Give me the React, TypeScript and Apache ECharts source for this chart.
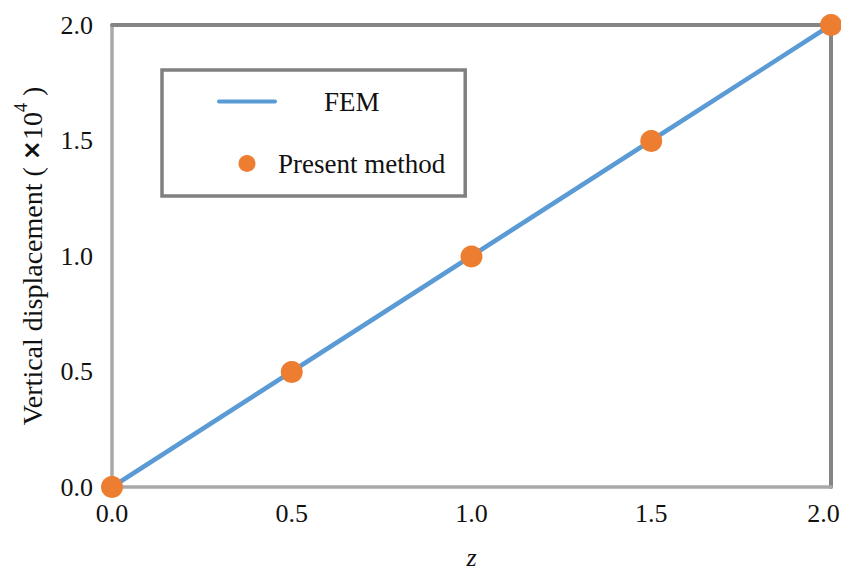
import React, { useEffect, useRef } from "react";
import * as echarts from "echarts";

const zValues = [0, 0.5, 1.0, 1.5, 2.0];
const femValues = [0, 0.5, 1.0, 1.5, 2.0];
const presentValues = [0, 0.498, 0.998, 1.498, 2.0];
const seriesNames = ["FEM", "Present method"];
const xAxisTitle = "z";
const yAxisTitle = "Vertical displacement ( {x|×}10{sup|4} )";

const FONT = "Liberation Serif";

export default function App() {
  const ref = useRef<HTMLDivElement>(null);
  useEffect(() => {
    if (!ref.current) return;
    const chart = echarts.init(ref.current, undefined, { renderer: "svg" });
    const fmt = (v: number) => v.toFixed(1);
    chart.setOption({
      animation: false,
      backgroundColor: "#ffffff",
      grid: { left: 112, right: 10, top: 25, bottom: 85, outerBoundsMode: "none", containLabel: false },
      legend: {
        orient: "vertical",
        left: 162,
        top: 70,
        padding: [18, 20, 19, 55],
        itemGap: 35,
        itemWidth: 60,
        itemHeight: 17,
        borderColor: "#808080",
        borderWidth: 3.5,
        backgroundColor: "#ffffff",
        data: [
          {
            name: seriesNames[0],
            icon: "path://M2,0 L58,0 A2,2 0 0 1 58,4 L2,4 A2,2 0 0 1 2,0 Z",
            itemStyle: { color: "#5b9bd5" },
          },
          { name: seriesNames[1], icon: "circle" },
        ],
        formatter: (name: string) =>
          name === seriesNames[0] ? "{fem|" + name + "}" : "{pm|" + name + "}",
        textStyle: {
          fontFamily: FONT,
          fontSize: 27,
          color: "#111",
          rich: {
            fem: { fontFamily: FONT, fontSize: 27, color: "#111", padding: [0, 0, 0, 42] },
            pm: { fontFamily: FONT, fontSize: 27, color: "#111", padding: [0, 0, 0, -4] },
          },
        },
      },
      xAxis: [
        {
          type: "value",
          min: 0,
          max: 2,
          interval: 0.5,
          position: "bottom",
          name: xAxisTitle,
          nameLocation: "middle",
          nameGap: 61,
          nameTextStyle: {
            fontFamily: FONT,
            fontSize: 26,
            fontStyle: "italic",
            color: "#111",
            lineHeight: 18,
          },
          axisLine: { show: true, lineStyle: { color: "#a9a9a9", width: 3.5 } },
          axisTick: { show: false },
          splitLine: { show: false },
          axisLabel: {
            fontFamily: FONT,
            fontSize: 26,
            color: "#111",
            margin: 13,
            formatter: (v: number) => (v >= 2 ? "{r|" + fmt(v) + "}" : fmt(v)),
            rich: {
              r: { fontFamily: FONT, fontSize: 26, color: "#111", padding: [0, 15, 0, 0] },
            },
          },
        },
        {
          type: "value",
          min: 0,
          max: 2,
          position: "top",
          axisLine: { show: true, onZero: false, lineStyle: { color: "#858585", width: 4 } },
          axisTick: { show: false },
          axisLabel: { show: false },
          splitLine: { show: false },
        },
      ],
      yAxis: [
        {
          type: "value",
          min: 0,
          max: 2,
          interval: 0.5,
          position: "left",
          name: yAxisTitle,
          nameLocation: "middle",
          nameRotate: 90,
          nameGap: 60,
          nameTextStyle: {
            fontFamily: FONT,
            fontSize: 28,
            color: "#111",
            rich: {
              x: { fontFamily: "DejaVu Sans", fontSize: 24, fontWeight: "bold", color: "#111" },
              sup: { fontFamily: FONT, fontSize: 18, color: "#111", padding: [0, 0, 22, 0] },
            },
          },
          axisLine: { show: true, lineStyle: { color: "#a9a9a9", width: 3.5 } },
          axisTick: { show: false },
          splitLine: { show: false },
          axisLabel: { fontFamily: FONT, fontSize: 26, color: "#111", margin: 19, formatter: fmt },
        },
        {
          type: "value",
          min: 0,
          max: 2,
          position: "right",
          axisLine: { show: true, onZero: false, lineStyle: { color: "#858585", width: 4 } },
          axisTick: { show: false },
          axisLabel: { show: false },
          splitLine: { show: false },
        },
      ],
      series: [
        {
          name: seriesNames[0],
          type: "line",
          symbol: "none",
          clip: false,
          data: zValues.map((z, i) => [z, femValues[i]]),
          lineStyle: { color: "#5b9bd5", width: 4.5 },
          itemStyle: { color: "#5b9bd5" },
          z: 3,
        },
        {
          name: seriesNames[1],
          type: "scatter",
          symbol: "circle",
          symbolSize: 22,
          clip: false,
          data: zValues.map((z, i) => [z, presentValues[i]]),
          itemStyle: { color: "#ed7d31", opacity: 1 },
          z: 4,
        },
      ],
    });
    return () => chart.dispose();
  }, []);
  return (
    <div
      ref={ref}
      style={{ position: "fixed", left: 0, top: 0, width: 841, height: 572 }}
    />
  );
}
